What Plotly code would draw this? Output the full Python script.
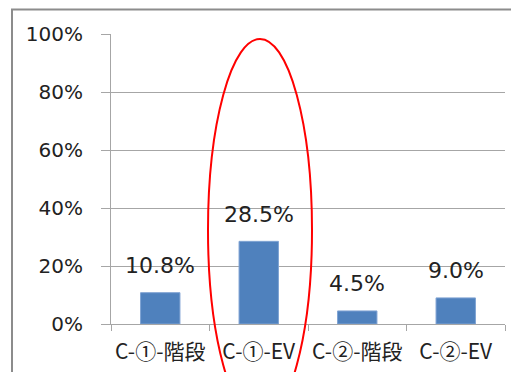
import plotly.graph_objects as go

categories = ["C-①-階段", "C-①-EV", "C-②-階段", "C-②-EV"]
values = [0.108, 0.285, 0.045, 0.090]
y_ticks = [0, 0.2, 0.4, 0.6, 0.8, 1.0]
y_tick_labels = ["0%", "20%", "40%", "60%", "80%", "100%"]

OFF = 8  # default page body margin
W, H = 519 - OFF, 372 - OFF
L, R, T, B = 111 - OFF, 14, 34 - OFF, 48
PW, PH = W - L - R, H - T - B

def px_x(x):
    return (x - OFF - L) / PW

def px_y(y):
    return (H - B - (y - OFF)) / PH

GRID = "#a6a6a6"

fig = go.Figure()
fig.add_trace(go.Bar(
    x=categories, y=values,
    marker=dict(color="#4f81bd", line=dict(color="#7fa3d3", width=1)),
    width=0.4,
))

for c, v in zip(categories, values):
    fig.add_annotation(
        x=c, y=v, text=f"{v*100:.1f}%", showarrow=False,
        yanchor="middle", yshift=27,
        font=dict(family="DejaVu Sans", size=22, color="#222222"),
    )

# outer chart border (partially visible)
fig.add_shape(type="rect", xref="paper", yref="paper",
              x0=px_x(12), x1=px_x(600), y0=px_y(9.5), y1=px_y(460),
              line=dict(color="#8c8c8c", width=2), layer="above")
# red highlight ellipse
fig.add_shape(type="circle", xref="paper", yref="paper",
              x0=px_x(208), x1=px_x(312), y0=px_y(39), y1=px_y(421),
              line=dict(color="#ff0000", width=2), layer="above")

fig.update_layout(
    width=W, height=H,
    margin=dict(l=L, r=R, t=T, b=B, pad=0, autoexpand=False),
    paper_bgcolor="white", plot_bgcolor="white",
    showlegend=False, bargap=0.6,
    font=dict(family="DejaVu Sans", color="#222222"),
)
fig.update_yaxes(
    range=[0, 1], tickvals=y_ticks, ticktext=y_tick_labels,
    showgrid=True, gridcolor=GRID, gridwidth=1,
    showline=True, linecolor=GRID, linewidth=1,
    ticks="outside", ticklen=9, tickcolor=GRID,
    ticklabelstandoff=14, automargin=False,
    tickfont=dict(family="DejaVu Sans", size=20, color="#222222"),
    zeroline=False, fixedrange=True,
)
fig.update_xaxes(
    showline=True, linecolor=GRID, linewidth=1,
    ticks="outside", ticklen=6, tickcolor=GRID, tickson="boundaries",
    tickangle=0, automargin=False, ticklabelstandoff=9,
    tickfont=dict(family="Noto Sans CJK JP", size=21, color="#222222"),
    fixedrange=True,
)

fig.write_html("out.html")
